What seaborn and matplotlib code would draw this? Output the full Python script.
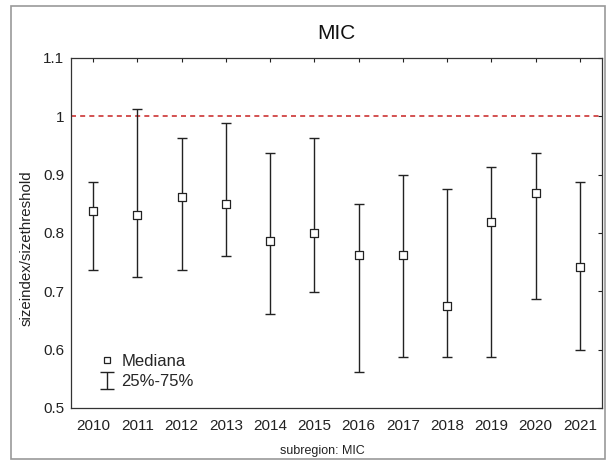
import numpy as np
import pandas as pd
import seaborn as sns
import matplotlib.pyplot as plt
from matplotlib.lines import Line2D
from matplotlib.patches import Rectangle
from matplotlib.ticker import FuncFormatter

# Dados
anos = ['2010', '2011', '2012', '2013', '2014', '2015',
        '2016', '2017', '2018', '2019', '2020', '2021']
mediana = [0.837, 0.831, 0.862, 0.850, 0.786, 0.800,
           0.762, 0.762, 0.675, 0.819, 0.869, 0.742]
q25 = [0.737, 0.725, 0.737, 0.761, 0.661, 0.699,
       0.562, 0.587, 0.587, 0.587, 0.687, 0.600]
q75 = [0.888, 1.013, 0.963, 0.989, 0.937, 0.963,
       0.850, 0.900, 0.876, 0.913, 0.937, 0.888]
limiar = 1.0

df = pd.DataFrame({'ano': anos, 'mediana': mediana, 'q25': q25, 'q75': q75})

sns.set_theme(style="white")
plt.rcParams['font.family'] = ['Liberation Sans', 'DejaVu Sans']

fig = plt.figure(figsize=(6.09, 4.61), dpi=100)
ax = fig.add_axes([0.1166, 0.115, 0.8719, 0.7592])

# Barras 25%-75%
ax.errorbar(df['ano'], df['mediana'],
            yerr=[df['mediana'] - df['q25'], df['q75'] - df['mediana']],
            fmt='none', ecolor='#222222', elinewidth=1.0,
            capsize=3.5, capthick=1.0, zorder=2)

# Medianas
sns.scatterplot(data=df, x='ano', y='mediana', marker='s', s=30,
                facecolor='white', edgecolor='#222222', linewidth=0.9,
                ax=ax, zorder=3, legend=False)

ax.axhline(limiar, color='#cc3333', linestyle=(0, (3, 2.5)), linewidth=1.2, zorder=1)

ax.set_xlim(-0.5, len(anos) - 0.5)
ax.set_ylim(0.5, 1.1)
ax.set_yticks(np.arange(0.5, 1.101, 0.1))
ax.yaxis.set_major_formatter(FuncFormatter(lambda v, p: f"{v:g}"))
ax.tick_params(direction='in', top=True, right=True, length=3, width=0.8,
               labelsize=11, colors='#222222')
ax.tick_params(axis='x', pad=8)
ax.tick_params(axis='y', pad=5)
for s in ax.spines.values():
    s.set_color('#333333')
    s.set_linewidth(0.9)

ax.set_title('MIC', fontsize=15, pad=14, color='#111111')
ax.set_xlabel('subregion: MIC', fontsize=9, color='#222222')
ax.set_ylabel('sizeindex/sizethreshold', fontsize=10.8, color='#222222')
ax.xaxis.set_label_coords(0.473, -0.106)
ax.yaxis.set_label_coords(-0.070, 0.457)

# Legenda (símbolo da barra desenhado num eixo oculto só para a legenda)
marcador = Line2D([], [], marker='s', linestyle='none', markersize=4,
                  markerfacecolor='white', markeredgecolor='#222222', markeredgewidth=0.9)
ax_aux = fig.add_axes([0, 0, 0.01, 0.01])
ax_aux.set_axis_off()
barra_leg = ax_aux.errorbar([0], [0], yerr=[1], fmt='none', ecolor='#222222',
                            elinewidth=1.0, capsize=4.7, capthick=1.0)
ax_aux.set_visible(False)
ax.legend([marcador, barra_leg], ['Mediana', '25%-75%'], loc='center left',
          bbox_to_anchor=(0.040, 0.104), frameon=False, fontsize=12,
          handlelength=1.0, handletextpad=0.36, labelspacing=0.32, borderaxespad=0)

# Moldura externa
fig.patches.append(Rectangle((11 / 609, 2 / 461), 594 / 609, 453 / 461,
                             transform=fig.transFigure, fill=False,
                             edgecolor='#999999', linewidth=1.2))

fig.savefig('out.png', dpi=100)
